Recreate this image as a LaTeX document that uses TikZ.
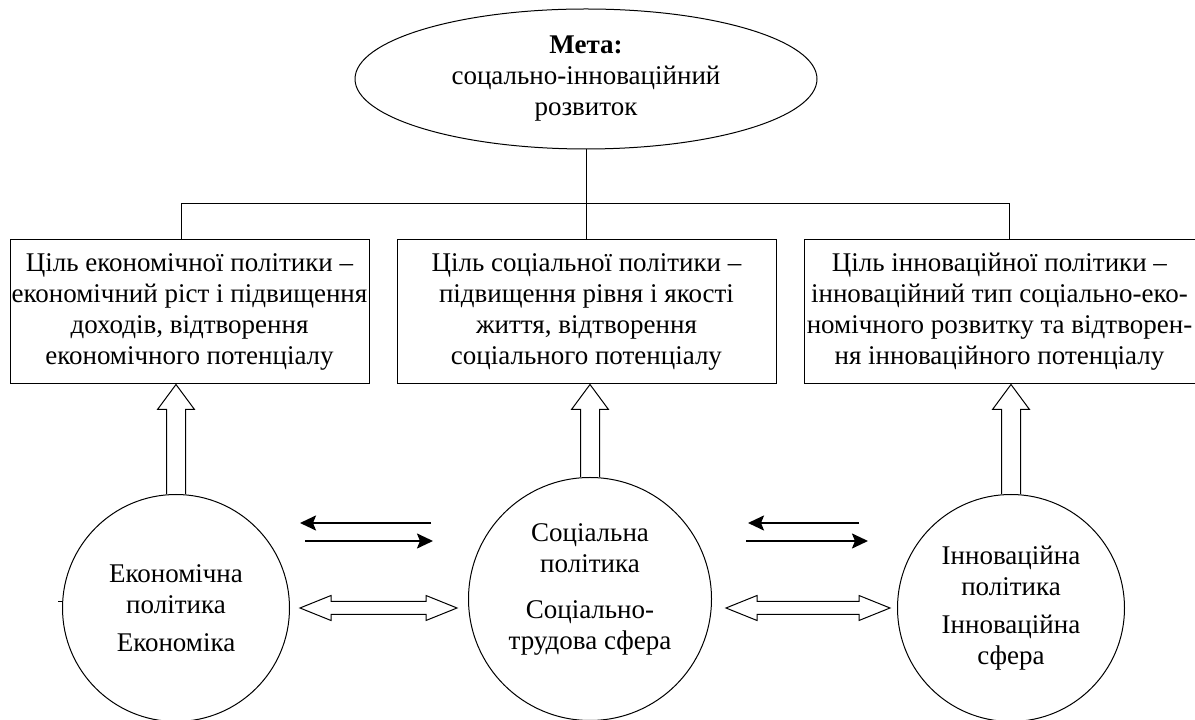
\documentclass[tikz,border=0pt]{standalone}
\usepackage{fontspec}
\setmainfont{Liberation Serif}
\usetikzlibrary{positioning, calc, shapes.geometric, arrows.meta}

\begin{document}
\begin{tikzpicture}[x=1pt, y=1pt, line width=1pt, node distance=27pt,
    font=\fontsize{27}{31}\selectfont,
    goalnode/.style={draw, ellipse, minimum width=462pt, minimum height=140pt, align=center, inner sep=0pt},
    aimbox/.style={draw, minimum height=144pt, align=center, inner sep=0pt},
    sphere/.style={draw, circle, align=center, inner sep=0pt},
    thinarr/.style={line width=2pt, -{Stealth[length=16pt, width=15pt, inset=3pt]}},
    fatup/.style={to path={let \p1=(\tikztostart), \p2=(\tikztotarget) in
        (\x1-9.5pt,\y1) -- (\x1-9.5pt,\y2-25pt) -- (\x1-18.5pt,\y2-25pt) -- (\x1,\y2)
        -- (\x1+18.5pt,\y2-25pt) -- (\x1+9.5pt,\y2-25pt) -- (\x1+9.5pt,\y1)}},
    fatboth/.style={to path={let \p1=(\tikztostart), \p2=(\tikztotarget) in
        (\x1,\y1) -- (\x1+31pt,\y1+12.5pt) -- (\x1+31pt,\y1+6.5pt) -- (\x2-31pt,\y1+6.5pt)
        -- (\x2-31pt,\y1+12.5pt) -- (\x2,\y1) -- (\x2-31pt,\y1-12.5pt) -- (\x2-31pt,\y1-6.5pt)
        -- (\x1+31pt,\y1-6.5pt) -- (\x1+31pt,\y1-12.5pt) -- cycle}}]
    \useasboundingbox (0,0) rectangle (1195,720);

    \node [goalnode] (goal) at (586,641) {\textbf{Мета:}\\соцально-інноваційний\\розвиток};

    \node [aimbox, minimum width=359pt] (econbox) at (189.5,408) {Ціль економічної політики –\\економічний ріст і підвищення\\доходів, відтворення\\економічного потенціалу};
    \node [aimbox, minimum width=379pt, right=of econbox] (socbox) {Ціль соціальної політики –\\підвищення рівня і якості\\життя, відтворення\\соціального потенціалу};
    \node [aimbox, minimum width=391pt, right=of socbox] (innobox) {Ціль інноваційної політики –\\інноваційний тип соціально-еко-\\номічного розвитку та відтворен-\\ня інноваційного потенціалу};

    \node [sphere, minimum size=227pt] (econ) at (176,112) {Економічна\\політика\\[7pt]Економіка};
    \node [sphere, minimum size=243pt, label={[align=center, yshift=10pt]center:{Соціальна\\політика\\[15pt]Соціально-\\трудова сфера}}] (soc) at (590,121) {};
    \node [sphere, minimum size=227pt] (inno) at (1011,112) {Інноваційна\\політика\\[7pt]Інноваційна\\сфера};

    \draw (goal.south) -- (goal.south |- socbox.north);
    \draw ([xshift=-8pt]econbox.north) -- ++(0,36) -| ([xshift=10pt]innobox.north);

    \draw (econ.north) to[fatup] (econ.north |- econbox.south);
    \draw (soc.north) to[fatup] (soc.north |- socbox.south);
    \draw (inno.north) to[fatup] (inno.north |- innobox.south);

    \draw [thinarr] ($(soc.west |- econ.east)+(-37pt,85pt)$) -- ($(econ.east)+(10pt,85pt)$);
    \draw [thinarr] ($(econ.east)+(15pt,67pt)$) -- ($(soc.west |- econ.east)+(-35pt,67pt)$);
    \draw [thinarr] ($(inno.west)+(-38pt,85pt)$) -- ($(soc.east |- inno.west)+(36pt,85pt)$);
    \draw [thinarr] ($(soc.east |- inno.west)+(34pt,67pt)$) -- ($(inno.west)+(-29pt,67pt)$);

    \draw ($(econ.east)+(10pt,0)$) to[fatboth] ($(soc.west)+(-11pt,0)$);
    \draw ($(soc.east |- inno.west)+(14pt,0)$) to[fatboth] ($(inno.west)+(-7pt,0)$);

    \draw ([yshift=6pt]econ.west) -- ++(-4pt,0);
\end{tikzpicture}
\end{document}
